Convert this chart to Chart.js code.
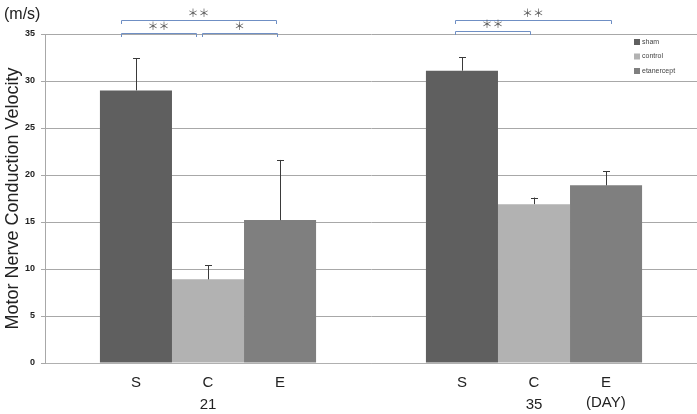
<!DOCTYPE html>
<html>
<head>
<meta charset="utf-8">
<script src="https://cdn.jsdelivr.net/npm/chart.js@4.4.1/dist/chart.umd.min.js"></script>
<style>
  html, body { margin: 0; padding: 0; background: #fff; }
  #wrap { width: 697px; height: 414px; position: relative; }
</style>
</head>
<body>
<div id="wrap"><canvas id="mncv"></canvas></div>
<script>
// data
const days = ['21', '35'];
const groups = ['sham', 'control', 'etanercept'];
const letters = ['S', 'C', 'E'];
const sham = [29.0, 31.1];
const control = [8.9, 16.9];
const etanercept = [15.2, 18.9];
const shamErr = [32.4, 32.5];
const controlErr = [10.4, 17.6];
const etanerceptErr = [21.6, 20.4];
const yTicks = [0, 5, 10, 15, 20, 25, 30, 35];
// significance: [day index, from group, to group, level, label]
const sig = [
  [0, 0, 2, 1, '\uFF0A\uFF0A'],
  [0, 0, 1, 0, '\uFF0A\uFF0A'],
  [0, 1, 2, 0, '\uFF0A'],
  [1, 0, 2, 1, '\uFF0A\uFF0A'],
  [1, 0, 1, 0, '\uFF0A\uFF0A']
];

const colors = ['#5f5f5f', '#b2b2b2', '#7f7f7f'];
const errs = [shamErr, controlErr, etanerceptErr];

const extras = {
  id: 'extras',
  afterDatasetsDraw(chart) {
    const ctx = chart.ctx;
    const y = chart.scales.y;
    ctx.save();
    // error bars (upper only)
    chart.data.datasets.forEach((ds, i) => {
      chart.getDatasetMeta(i).data.forEach((bar, j) => {
        const yt = y.getPixelForValue(errs[i][j]);
        ctx.strokeStyle = '#3a3a3a';
        ctx.lineWidth = 1;
        ctx.beginPath();
        ctx.moveTo(Math.round(bar.x) + 0.5, bar.y);
        ctx.lineTo(Math.round(bar.x) + 0.5, yt);
        ctx.moveTo(Math.round(bar.x) - 3, Math.round(yt) + 0.5);
        ctx.lineTo(Math.round(bar.x) + 4, Math.round(yt) + 0.5);
        ctx.stroke();
      });
    });
    // bar letters under each bar
    ctx.fillStyle = '#222';
    ctx.font = '15px "Liberation Sans", Arial, sans-serif';
    ctx.textAlign = 'center';
    ctx.textBaseline = 'middle';
    chart.data.datasets.forEach((ds, i) => {
      chart.getDatasetMeta(i).data.forEach((bar) => {
        ctx.fillText(letters[i], bar.x, y.bottom + 20);
      });
    });
    const lastE = chart.getDatasetMeta(2).data[1];
    ctx.textAlign = 'left';
    ctx.fillText('(DAY)', lastE.x - 20, y.bottom + 40);
    // significance brackets
    sig.forEach(([d, a, b, lvl, txt]) => {
      const ba = chart.getDatasetMeta(a).data[d];
      const bb = chart.getDatasetMeta(b).data[d];
      let x1 = ba.x - (d === 0 ? 15 : 7);
      let x2 = bb.x - (d === 0 ? 4 : -5);
      if (d === 0 && lvl === 0) { x1 = ba.x - (a === 0 ? 15 : 6); x2 = bb.x - (b === 1 ? 12 : 3); }
      if (d === 1 && lvl === 0) { x2 = bb.x - 4; }
      const yb = lvl === 1 ? 20 : (d === 0 ? 33 : 31);
      ctx.strokeStyle = '#6f8fc4';
      ctx.lineWidth = 1;
      ctx.beginPath();
      ctx.moveTo(Math.round(x1) + 0.5, yb + 4);
      ctx.lineTo(Math.round(x1) + 0.5, yb + 0.5);
      ctx.lineTo(Math.round(x2) + 0.5, yb + 0.5);
      ctx.lineTo(Math.round(x2) + 0.5, yb + 4);
      ctx.stroke();
      ctx.fillStyle = '#555';
      ctx.font = '11px "Noto Sans CJK JP", sans-serif';
      ctx.textAlign = 'center';
      ctx.fillText(txt, (x1 + x2) / 2, yb - 7);
    });
    // legend inside plot
    ctx.font = '7px "Liberation Sans", Arial, sans-serif';
    ctx.textAlign = 'left';
    groups.forEach((g, i) => {
      const ly = 42 + i * 14.5;
      ctx.fillStyle = colors[i];
      ctx.fillRect(634, ly - 3, 6, 6);
      ctx.fillStyle = '#444';
      ctx.fillText(g, 642, ly);
    });
    // unit label
    ctx.fillStyle = '#222';
    ctx.font = '16px "Liberation Sans", Arial, sans-serif';
    ctx.fillText('(m/s)', 4, 15);
    ctx.restore();
  }
};

new Chart(document.getElementById('mncv'), {
  type: 'bar',
  data: {
    labels: days,
    datasets: [
      { label: groups[0], data: sham, backgroundColor: colors[0] },
      { label: groups[1], data: control, backgroundColor: colors[1] },
      { label: groups[2], data: etanercept, backgroundColor: colors[2] }
    ]
  },
  options: {
    responsive: true,
    maintainAspectRatio: false,
    animation: false,
    categoryPercentage: 0.663,
    barPercentage: 1.0,
    layout: { padding: { top: 34, right: 0, left: 2, bottom: 0 } },
    plugins: { legend: { display: false }, tooltip: { enabled: false } },
    scales: {
      x: {
        grid: { display: false },
        border: { color: '#b0b0b0' },
        ticks: { color: '#222', font: { size: 15, family: '"Liberation Sans", Arial, sans-serif' }, padding: 25 },
        afterFit(s) { s.height = 51; }
      },
      y: {
        min: 0, max: 35,
        afterBuildTicks(s) { s.ticks = yTicks.map(v => ({ value: v })); },
        grid: { color: '#a8a8a8', tickLength: 4 },
        border: { color: '#a8a8a8' },
        ticks: { color: '#222', font: { size: 9, weight: 'bold', family: '"Liberation Sans", Arial, sans-serif' }, padding: 6 },
        title: { display: true, text: 'Motor Nerve Conduction Velocity', color: '#222', font: { size: 18, family: '"Liberation Sans", Arial, sans-serif' }, padding: 0 },
        afterFit(s) { s.width = 43; }
      }
    }
  },
  plugins: [extras]
});
</script>
</body>
</html>
